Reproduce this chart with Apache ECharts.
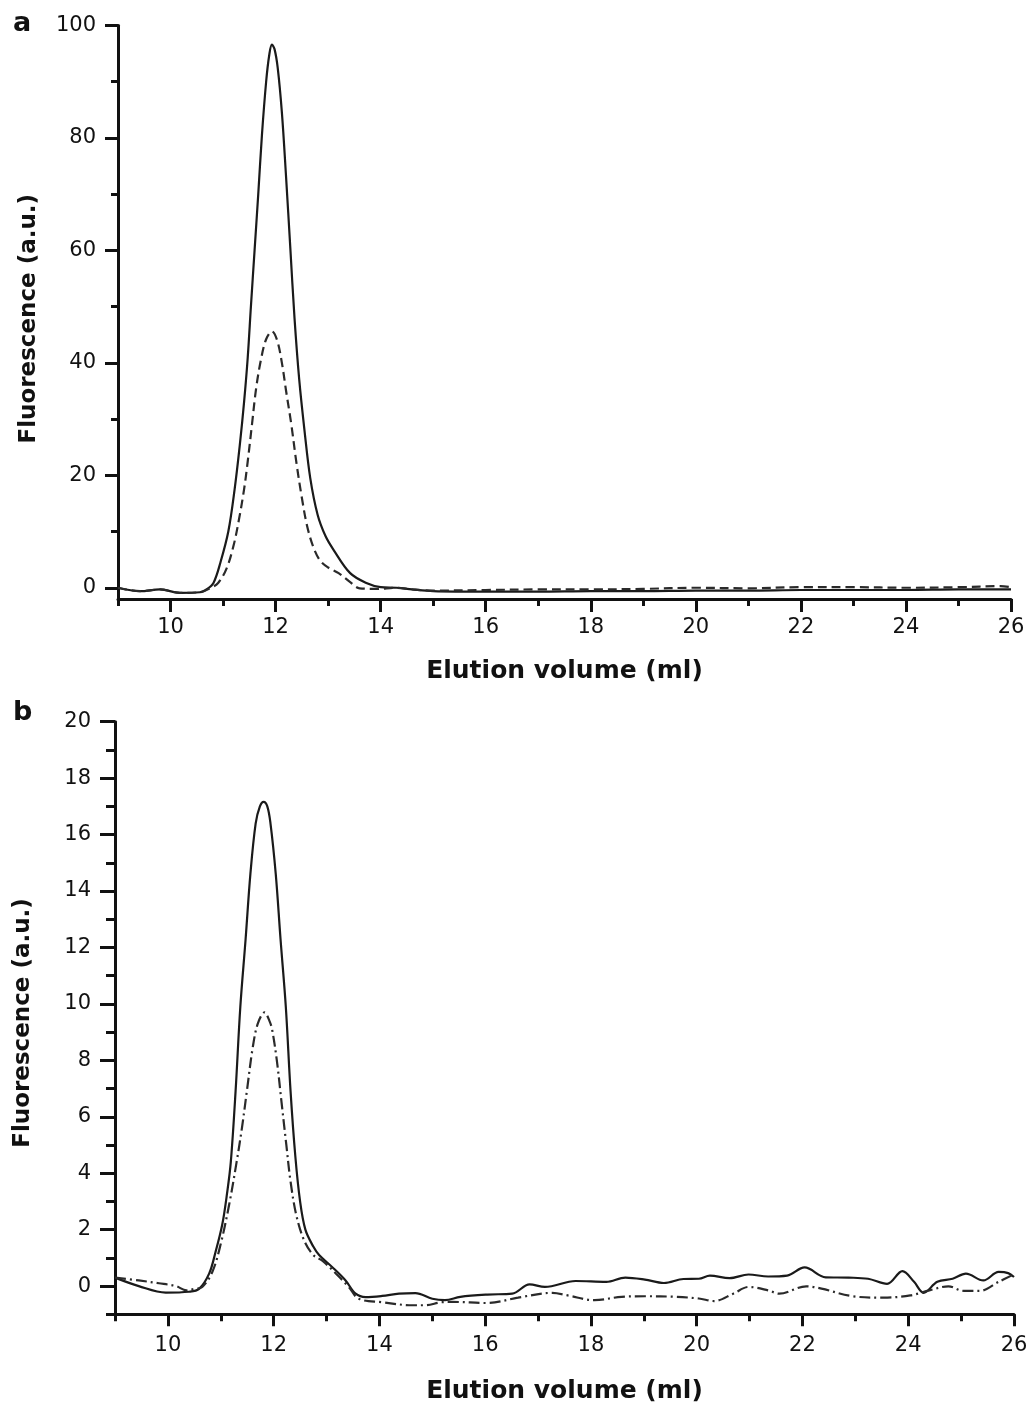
<!DOCTYPE html>
<html>
<head>
<meta charset="utf-8">
<script src="https://cdn.jsdelivr.net/npm/echarts@6/dist/echarts.min.js"></script>
<style>
  html, body { margin: 0; padding: 0; background: #fff; }
  #chart { width: 1032px; height: 1407px; }
</style>
</head>
<body>
<div id="chart"></div>
<script>
// ---------- data ----------
// Panel a: x = elution volume (ml), y = fluorescence (a.u.)
const aSolid = [
  [9.0,0.0],[9.42,-0.6],[9.8,-0.3],[10.18,-0.9],[10.56,-0.8],[10.7,-0.2],[10.82,0.9],
  [10.95,4.5],[11.1,10.0],[11.22,17.5],[11.32,25.5],[11.4,33.0],[11.47,41.0],[11.53,50.0],
  [11.6,60.0],[11.67,70.0],[11.74,80.5],[11.82,90.0],[11.88,94.8],[11.93,96.6],[11.98,95.8],
  [12.04,92.5],[12.12,84.5],[12.2,73.0],[12.28,60.5],[12.36,48.0],[12.45,37.0],[12.55,28.0],
  [12.66,19.5],[12.8,13.0],[12.95,9.2],[13.1,6.8],[13.42,2.6],[13.74,0.8],[14.0,0.1],
  [14.3,0.0],[14.6,-0.3],[15,-0.6],[16,-0.7],[17,-0.7],[18,-0.6],[19,-0.6],
  [20,-0.5],[21,-0.5],[22,-0.4],[23,-0.4],[24,-0.4],[25,-0.3],[26,-0.3]
];
const aDashed = [
  [9.0,0.0],[9.42,-0.6],[9.8,-0.3],[10.18,-0.9],[10.56,-0.8],[10.75,-0.1],[10.91,0.9],
  [11.07,3.5],[11.2,7.5],[11.3,12.0],[11.4,17.5],[11.47,22.5],[11.55,29.0],[11.63,35.5],
  [11.72,40.5],[11.82,44.2],[11.93,45.6],[12.03,44.0],[12.12,40.0],[12.2,35.0],[12.3,29.0],
  [12.4,22.0],[12.5,16.0],[12.6,11.0],[12.72,7.2],[12.85,4.8],[13.0,3.6],[13.2,2.6],
  [13.42,1.0],[13.6,-0.1],[13.92,-0.2],[14.3,0.0],[14.6,-0.3],
  [15,-0.5],[16,-0.4],[17,-0.3],[18,-0.3],[19,-0.2],[20,0.0],[21,-0.1],[22,0.1],[23,0.1],
  [24,0.0],[25,0.1],[25.8,0.3],[26,0.1]
];
// Panel b
const bSolid = [
  [9.0,0.3],[9.45,0.0],[9.96,-0.23],[10.4,-0.2],[10.59,-0.1],[10.78,0.44],[10.9,1.2],
  [11.03,2.2],[11.12,3.3],[11.19,4.4],[11.28,6.9],[11.37,9.9],[11.47,12.3],[11.56,14.6],
  [11.66,16.4],[11.74,17.0],[11.81,17.16],[11.88,17.0],[11.94,16.4],[12.04,14.6],[12.13,12.3],
  [12.23,9.9],[12.32,6.9],[12.41,4.6],[12.5,3.0],[12.6,2.0],[12.75,1.4],[12.86,1.1],
  [13.11,0.67],[13.36,0.2],[13.55,-0.27],[13.74,-0.39],[14.05,-0.35],[14.37,-0.27],
  [14.68,-0.25],[15.0,-0.45],[15.24,-0.5],[15.53,-0.38],[16.04,-0.3],[16.51,-0.27],
  [16.84,0.06],[17.13,-0.03],[17.71,0.18],[18.29,0.15],[18.65,0.3],[19.02,0.23],[19.38,0.11],
  [19.75,0.25],[20.04,0.26],[20.25,0.37],[20.62,0.28],[20.98,0.41],[21.35,0.34],[21.71,0.37],
  [22.04,0.66],[22.44,0.31],[22.87,0.3],[23.24,0.26],[23.6,0.08],[23.89,0.53],[24.11,0.15],
  [24.29,-0.24],[24.55,0.15],[24.84,0.26],[25.09,0.44],[25.42,0.2],[25.71,0.5],[25.89,0.46],
  [26.0,0.32]
];
const bDashDot = [
  [9.0,0.3],[9.45,0.2],[9.83,0.1],[10.15,0.0],[10.35,-0.15],[10.5,-0.1],[10.65,-0.03],
  [10.84,0.5],[11.0,1.5],[11.16,2.9],[11.3,4.4],[11.4,5.6],[11.5,7.0],[11.6,8.4],
  [11.7,9.3],[11.83,9.7],[11.92,9.4],[11.97,9.1],[12.06,8.0],[12.15,6.5],[12.24,5.0],
  [12.32,3.7],[12.43,2.5],[12.58,1.6],[12.75,1.1],[12.92,0.9],[13.18,0.44],[13.42,-0.03],
  [13.61,-0.45],[14.05,-0.57],
  [14.62,-0.68],[14.85,-0.68],[15.19,-0.57],[15.38,-0.56],[16.04,-0.6],[16.62,-0.41],
  [17.27,-0.24],[17.56,-0.33],[18.07,-0.5],[18.58,-0.38],[19.02,-0.36],[19.6,-0.38],
  [20.04,-0.44],[20.33,-0.53],[20.69,-0.27],[20.98,-0.03],[21.35,-0.15],[21.56,-0.27],
  [22.07,-0.01],[22.36,-0.09],[22.95,-0.36],[23.53,-0.41],[24.04,-0.33],[24.4,-0.15],
  [24.76,-0.01],[25.05,-0.17],[25.35,-0.17],[25.71,0.15],[25.96,0.38]
];
// ticks
const xMajorTicks = [10,12,14,16,18,20,22,24,26];
const xMinorTicks = [9,11,13,15,17,19,21,23,25];
const aYMajorTicks = [0,20,40,60,80,100];
const aYMinorTicks = [10,30,50,70,90];
const bYMajorTicks = [0,2,4,6,8,10,12,14,16,18,20];
const bYMinorTicks = [-1,1,3,5,7,9,11,13,15,17,19];
const xTitle = 'Elution volume (ml)';
const yTitle = 'Fluorescence (a.u.)';

// ---------- chart ----------
const FONT = 'DejaVu Sans';
const INK = '#111';
const chart = echarts.init(document.getElementById('chart'), null, { renderer: 'canvas' });

function xAxes(grid, min, max, major, minor, labelMargin, nameGap, tickLen, minorLen) {
  return [
    { gridIndex: grid, type: 'value', position: 'bottom', min: min, max: max,
      axisLine: { show: true, onZero: false, lineStyle: { color: INK, width: 3 } },
      axisTick: { show: true, inside: false, length: tickLen, customValues: major, lineStyle: { color: INK, width: 3 } },
      axisLabel: { show: true, customValues: major, margin: labelMargin, color: INK, fontFamily: FONT, fontSize: 21 },
      splitLine: { show: false },
      name: xTitle, nameLocation: 'middle', nameGap: nameGap,
      nameTextStyle: { fontFamily: FONT, fontWeight: 'bold', fontSize: 25, color: INK } },
    { gridIndex: grid, type: 'value', position: 'bottom', offset: 0, min: min, max: max,
      axisLine: { show: false, onZero: false },
      axisTick: { show: true, inside: false, length: minorLen, customValues: minor, lineStyle: { color: INK, width: 3 } },
      axisLabel: { show: false }, splitLine: { show: false } }
  ];
}
function yAxes(grid, min, max, major, minor, labelMargin, nameGap, tickLen, minorLen, namePad) {
  return [
    { gridIndex: grid, type: 'value', position: 'left', min: min, max: max,
      axisLine: { show: true, onZero: false, lineStyle: { color: INK, width: 3 } },
      axisTick: { show: true, inside: false, length: tickLen, customValues: major, lineStyle: { color: INK, width: 3 } },
      axisLabel: { show: true, customValues: major, margin: labelMargin, color: INK, fontFamily: FONT, fontSize: 21 },
      splitLine: { show: false },
      name: yTitle, nameLocation: 'middle', nameGap: nameGap,
      nameTextStyle: { fontFamily: FONT, fontWeight: 'bold', fontSize: 23, color: INK, padding: [0, namePad, 0, 0] } },
    { gridIndex: grid, type: 'value', position: 'left', offset: 0, min: min, max: max,
      axisLine: { show: false, onZero: false },
      axisTick: { show: true, inside: false, length: minorLen, customValues: minor, lineStyle: { color: INK, width: 3 } },
      axisLabel: { show: false }, splitLine: { show: false } }
  ];
}

const option = {
  animation: false,
  backgroundColor: '#fff',
  grid: [
    { left: 118, right: 21, top: 25.5, bottom: 808, outerBoundsMode: 'none', containLabel: false },
    { left: 115, right: 18, top: 721.7, bottom: 92.7, outerBoundsMode: 'none', containLabel: false }
  ],
  xAxis: [].concat(
    xAxes(0, 9, 26, xMajorTicks, xMinorTicks, 18, 60, 13, 7),
    xAxes(1, 9, 26, xMajorTicks, xMinorTicks, 21, 65, 12, 7)
  ),
  yAxis: [].concat(
    yAxes(0, -2, 100, aYMajorTicks, aYMinorTicks, 22, 77, 13, 7, 13),
    yAxes(1, -1, 20, bYMajorTicks, bYMinorTicks, 24, 80, 15, 9, 10)
  ),
  graphic: [
    { type: 'text', x: 13, y: 24, style: { text: 'a', font: 'bold 27px "DejaVu Sans"', fill: INK, verticalAlign: 'middle', align: 'left' } },
    { type: 'text', x: 13, y: 713, style: { text: 'b', font: 'bold 27px "DejaVu Sans"', fill: INK, verticalAlign: 'middle', align: 'left' } }
  ],
  series: [
    { type: 'line', xAxisIndex: 0, yAxisIndex: 0, data: aSolid, showSymbol: false, smooth: 0.35,
      lineStyle: { color: '#1a1a1a', width: 2.2 } },
    { type: 'line', xAxisIndex: 0, yAxisIndex: 0, data: aDashed, showSymbol: false, smooth: 0.35,
      lineStyle: { color: '#2a2a2a', width: 2.2, type: [9, 5] } },
    { type: 'line', xAxisIndex: 2, yAxisIndex: 2, data: bSolid, showSymbol: false, smooth: 0.35,
      lineStyle: { color: '#1a1a1a', width: 2.2 } },
    { type: 'line', xAxisIndex: 2, yAxisIndex: 2, data: bDashDot, showSymbol: false, smooth: 0.35,
      lineStyle: { color: '#2a2a2a', width: 2.2, type: [11, 4, 2, 4] } }
  ]
};
chart.setOption(option);
</script>
</body>
</html>
